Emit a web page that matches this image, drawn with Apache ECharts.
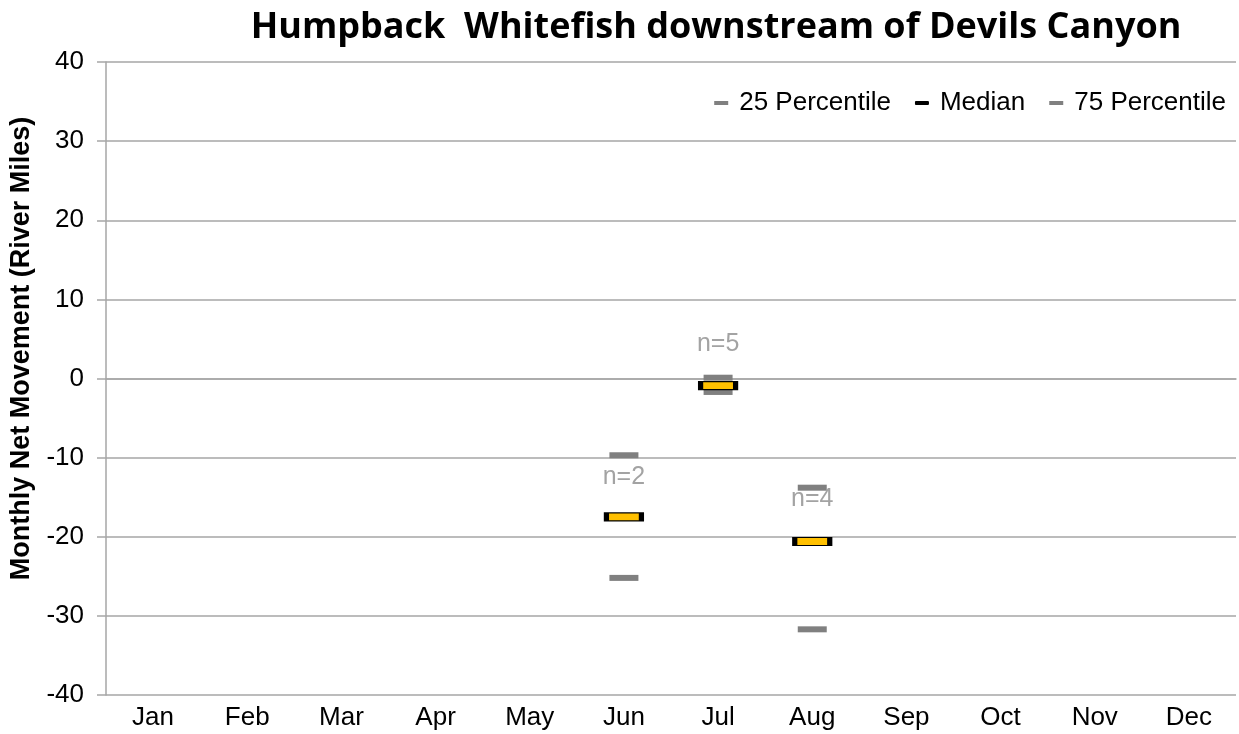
<!DOCTYPE html>
<html>
<head>
<meta charset="utf-8">
<script src="https://cdn.jsdelivr.net/npm/echarts@6/dist/echarts.min.js"></script>
<style>
  html, body { margin: 0; padding: 0; background: #fff; }
  #chart { width: 1239px; height: 734px; }
</style>
</head>
<body>
<div id="chart"></div>
<script>
// Monthly net movement of tagged Humpback Whitefish (river miles)
const months = ['Jan', 'Feb', 'Mar', 'Apr', 'May', 'Jun', 'Jul', 'Aug', 'Sep', 'Oct', 'Nov', 'Dec'];
const p25 = [null, null, null, null, null, -25.2, -1.7, -31.7, null, null, null, null];
const median = [null, null, null, null, null, -17.5, -0.9, -20.6, null, null, null, null];
const p75 = [null, null, null, null, null, -9.7, 0.1, -13.8, null, null, null, null];
// sample sizes and the height at which each count label sits
const counts = [null, null, null, null, null, 2, 5, 4, null, null, null, null];
const countPos = [null, null, null, null, null, -12.4, 4.4, -15.3, null, null, null, null];
const yTicks = [-40, -30, -20, -10, 0, 10, 20, 30, 40];

const chart = echarts.init(document.getElementById('chart'));
const font = 'Liberation Sans, Arial, sans-serif';

chart.setOption({
  animation: false,
  title: {
    text: 'Humpback  Whitefish downstream of Devils Canyon',
    left: 711, top: 5, textAlign: 'center',
    textStyle: { fontFamily: 'Open Sans, sans-serif', fontWeight: 'bold', fontSize: 36, color: '#000' }
  },
  legend: {
    right: 8, top: 85,
    itemGap: 24,
    itemWidth: 14, itemHeight: 4,
    textStyle: { fontFamily: font, fontSize: 26, color: '#000', padding: [0, 0, 0, 6] },
    data: [
      { name: '25 Percentile', icon: 'rect', itemStyle: { color: '#808080', borderWidth: 0 } },
      { name: 'Median', icon: 'roundRect', itemStyle: { color: '#000', borderWidth: 0 } },
      { name: '75 Percentile', icon: 'rect', itemStyle: { color: '#808080', borderWidth: 0 } }
    ]
  },
  grid: { left: 106, right: 3, top: 62, bottom: 39 },
  xAxis: {
    type: 'category',
    data: months,
    axisLine: { lineStyle: { color: '#a6a6a6', width: 1.5 } },
    axisTick: { show: false },
    axisLabel: { fontFamily: font, fontSize: 26, color: '#000', margin: 10 }
  },
  yAxis: {
    type: 'value',
    min: yTicks[0], max: yTicks[yTicks.length - 1], interval: 10,
    name: 'Monthly Net Movement (River Miles)',
    nameLocation: 'middle', nameGap: 71, nameRotate: 90,
    nameTextStyle: {
      fontFamily: font, fontWeight: 'bold', fontSize: 27, color: '#000',
      padding: [0, 0, 0, 60]
    },
    axisLine: { show: true, lineStyle: { color: '#a6a6a6', width: 1.5 } },
    axisTick: { show: true, length: 9, lineStyle: { color: '#a6a6a6', width: 1.5 } },
    axisLabel: { fontFamily: font, fontSize: 26, color: '#000', margin: 22 },
    splitLine: { lineStyle: { color: '#a6a6a6', width: 1.5 } }
  },
  series: [
    {
      name: '25 Percentile', type: 'scatter', data: p25,
      symbol: 'rect', symbolSize: [29, 6],
      itemStyle: { color: '#808080', opacity: 1 }, z: 3
    },
    {
      name: '75 Percentile', type: 'scatter', data: p75,
      symbol: 'rect', symbolSize: [29, 6],
      itemStyle: { color: '#808080', opacity: 1 }, z: 3
    },
    {
      name: 'Median', type: 'scatter', data: median,
      symbol: 'rect', symbolSize: [35, 8],
      itemStyle: { color: '#FFC000', borderColor: '#000', borderWidth: 2.5, opacity: 1 }, z: 4
    },
    {
      name: 'counts', type: 'scatter', symbolSize: 0, silent: true,
      data: countPos.map((v, i) => v === null ? null : { value: v, n: counts[i] }),
      label: {
        show: true, position: 'inside',
        fontFamily: font, fontSize: 25, color: '#8c8c8c',
        formatter: p => 'n=' + p.data.n
      },
      z: 5
    }
  ]
});
</script>
</body>
</html>
